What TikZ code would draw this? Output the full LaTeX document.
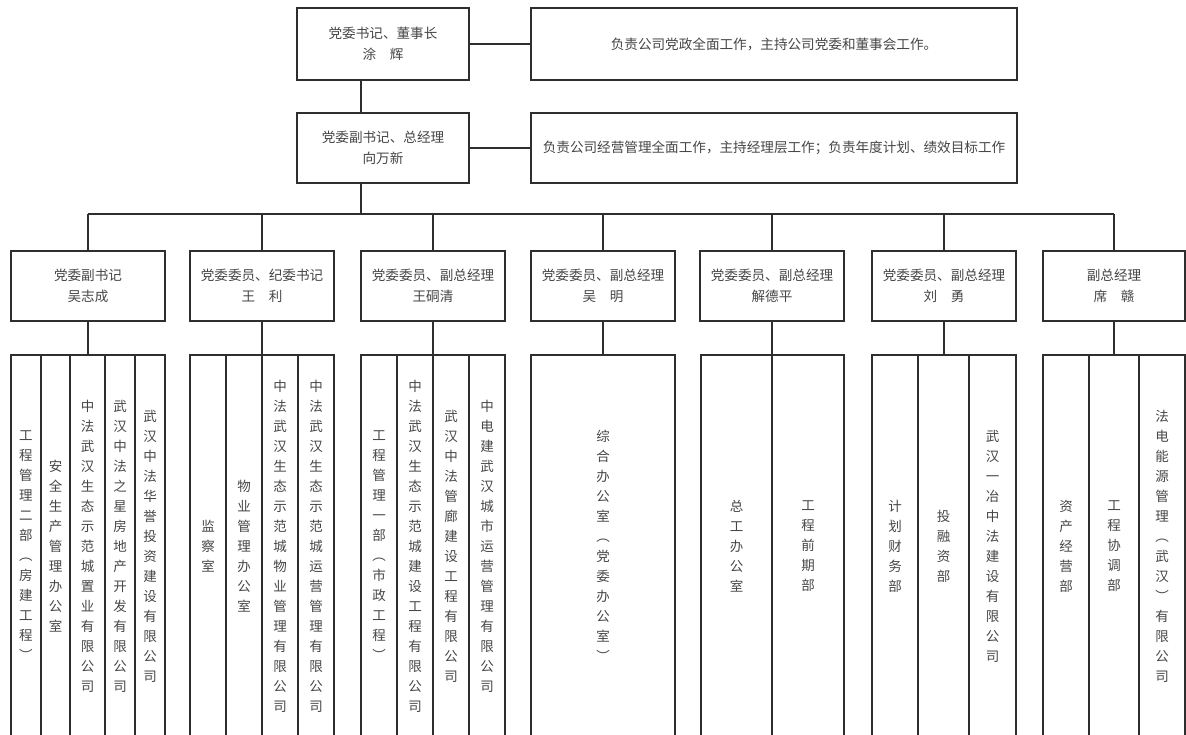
\documentclass[tikz,border=0pt]{standalone}
\usepackage{fontspec}
\newfontfamily\cjk{Noto Sans CJK SC}
\definecolor{lnc}{HTML}{2E2E2E}
\definecolor{txc}{HTML}{464646}
\ExplSyntaxOn
\NewDocumentCommand\vt{m}{\tl_map_inline:nn{#1}{##1\par}}
\ExplSyntaxOff
\tikzset{
  box/.style={draw=lnc, line width=1.5pt, fill=white, text=txc,
    font=\cjk\fontsize{13.6}{21}\selectfont, align=center, inner sep=0pt},
  col/.style={draw=lnc, line width=1.5pt, text=txc,
    font=\cjk\fontsize{13.5}{20}\selectfont, text width=16pt, align=center,
    inner sep=0pt, minimum height=382pt},
  conn/.style={draw=lnc, line width=1.5pt}
}
\begin{document}
\begin{tikzpicture}[x=1pt,y=-1pt]
\useasboundingbox (0,0) rectangle (1186,735);
% top level
\node[box, minimum width=172, minimum height=72] (t1) at (383,44) {党委书记、董事长\\涂　辉};
\node[box, minimum width=486, minimum height=72] (d1) at (774,44) {负责公司党政全面工作，主持公司党委和董事会工作。};
\node[box, minimum width=172, minimum height=70] (t2) at (383,148) {党委副书记、总经理\\向万新};
\node[box, minimum width=486, minimum height=70] (d2) at (774,148) {负责公司经营管理全面工作，主持经理层工作；负责年度计划、绩效目标工作};
\draw[conn] (t1.east) -- (d1.west);
\draw[conn] (t2.east) -- (d2.west);
\draw[conn] ([xshift=-22pt]t1.south) -- ([xshift=-22pt]t2.north);
\coordinate (bar) at (361,214);
\draw[conn] ([xshift=-22pt]t2.south) -- (bar);
% second level
\node[box, minimum width=154, minimum height=70] (m1) at (88,286) {党委副书记\\吴志成};
\node[box, minimum width=144, minimum height=70] (m2) at (262,286) {党委委员、纪委书记\\王　利};
\node[box, minimum width=144, minimum height=70] (m3) at (433,286) {党委委员、副总经理\\王硐清};
\node[box, minimum width=144, minimum height=70] (m4) at (603,286) {党委委员、副总经理\\吴　明};
\node[box, minimum width=144, minimum height=70] (m5) at (772,286) {党委委员、副总经理\\解德平};
\node[box, minimum width=144, minimum height=70] (m6) at (944,286) {党委委员、副总经理\\刘　勇};
\node[box, minimum width=142, minimum height=70] (m7) at (1114,286) {副总经理\\席　赣};
\draw[conn] (m1.north |- bar) -- (m7.north |- bar);
\foreach \m in {m1,m2,m3,m4,m5,m6,m7}{
  \draw[conn] (\m.north |- bar) -- (\m.north);
}
% group 1
\node[col, minimum width=30] (g1a) at (26,546) {\vt{工程管理二部︵房建工程︶}};
\node[col, minimum width=29] (g1b) at (55.5,546) {\vt{安全生产管理办公室}};
\node[col, minimum width=35] (g1c) at (87.5,546) {\vt{中法武汉生态示范城置业有限公司}};
\node[col, minimum width=30] (g1d) at (120,546) {\vt{武汉中法之星房地产开发有限公司}};
\node[col, minimum width=30] (g1e) at (150,546) {\vt{武汉中法华誉投资建设有限公司}};
% group 2
\node[col, minimum width=36] (g2a) at (208,546) {\vt{监察室}};
\node[col, minimum width=36] (g2b) at (244,546) {\vt{物业管理办公室}};
\node[col, minimum width=36] (g2c) at (280,546) {\vt{中法武汉生态示范城物业管理有限公司}};
\node[col, minimum width=36] (g2d) at (316,546) {\vt{中法武汉生态示范城运营管理有限公司}};
% group 3
\node[col, minimum width=36] (g3a) at (379,546) {\vt{工程管理一部︵市政工程︶}};
\node[col, minimum width=36] (g3b) at (415,546) {\vt{中法武汉生态示范城建设工程有限公司}};
\node[col, minimum width=36] (g3c) at (451,546) {\vt{武汉中法管廊建设工程有限公司}};
\node[col, minimum width=36] (g3d) at (487,546) {\vt{中电建武汉城市运营管理有限公司}};
% group 4
\node[col, minimum width=144] (g4a) at (603,546) {\vt{综合办公室︵党委办公室︶}};
% group 5
\node[col, minimum width=71] (g5a) at (736.5,546) {\vt{总工办公室}};
\node[col, minimum width=72] (g5b) at (808,546) {\vt{工程前期部}};
% group 6
\node[col, minimum width=46] (g6a) at (895,546) {\vt{计划财务部}};
\node[col, minimum width=51] (g6b) at (943.5,546) {\vt{投融资部}};
\node[col, minimum width=47] (g6c) at (992.5,546) {\vt{武汉一冶中法建设有限公司}};
% group 7
\node[col, minimum width=46] (g7a) at (1066,546) {\vt{资产经营部}};
\node[col, minimum width=50] (g7b) at (1114,546) {\vt{工程协调部}};
\node[col, minimum width=46] (g7c) at (1162,546) {\vt{法电能源管理︵武汉︶有限公司}};
% connectors to groups
\draw[conn] (m1.south) -- (m1.south |- g1c.north);
\draw[conn] (m2.south) -- (m2.south |- g2c.north);
\draw[conn] (m3.south) -- (m3.south |- g3c.north);
\draw[conn] (m4.south) -- (g4a.north);
\draw[conn] (m5.south) -- (m5.south |- g5a.north);
\draw[conn] (m6.south) -- (m6.south |- g6b.north);
\draw[conn] (m7.south) -- (m7.south |- g7b.north);
\end{tikzpicture}
\end{document}
